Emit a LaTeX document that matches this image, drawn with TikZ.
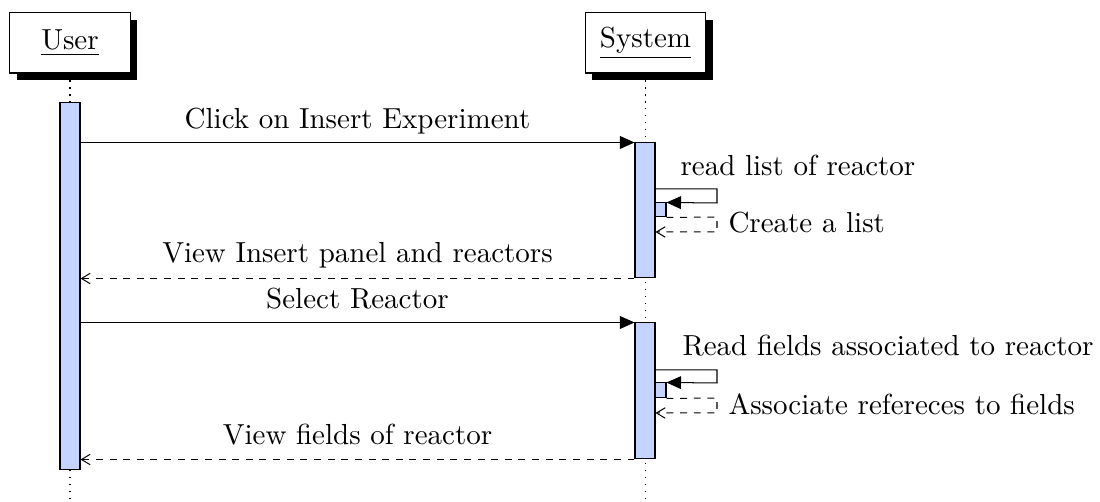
\documentclass[tikz,border=0pt]{standalone}
\usetikzlibrary{arrows.meta,shadows,fit,backgrounds}
\definecolor{barblue}{RGB}{197,211,255}
\begin{document}
\begin{tikzpicture}[x=0.3448pt,y=-0.3448pt,line width=0.35pt,
  inst/.style={draw,fill=white,minimum width=41.4pt,minimum height=20.7pt,inner sep=0pt,
    drop shadow={shadow xshift=2.4pt,shadow yshift=-2.4pt,fill=black,opacity=1}},
  actbar/.style={draw,fill=barblue,inner sep=0pt},
  lifeline/.style={dotted},
  call/.style={-{Triangle[length=5pt,width=4.4pt]}},
  reply/.style={dash pattern=on 2.4pt off 2.3pt,-{Straight Barb[length=3pt,width=3.6pt]}},
  lbl/.style={inner sep=0pt,anchor=base},
  lblw/.style={inner sep=0pt,anchor=base west}]
\useasboundingbox (0,0) rectangle (1100,502);

% actors
\node[inst] (user) at (70,43) {\underline{User}};
\node[inst,minimum width=41.7pt] (system) at (645.5,43) {\underline{System}};
\coordinate (uend) at (70,502);
\coordinate (send) at (645.5,502);
\begin{scope}[on background layer]
  \draw[lifeline] (user.south) -- (uend);
  \draw[lifeline] (system.south) -- (send);
\end{scope}

% activation bars
\node[actbar,fit={(60,103) (80,470)}] (ubar) {};
\node[actbar,fit={(635,143) (655,278)}] (sbar1) {};
\node[actbar,fit={(635,323) (655,459)}] (sbar2) {};
\node[actbar,fit={(655,203) (666,217)}] (sb1) {};
\node[actbar,fit={(655,383) (666,398)}] (sb2) {};

% message 1
\draw[call] (ubar.east |- sbar1.north) -- (sbar1.north west);
\node[lbl] (t1) at (357.5,129) {Click on Insert Experiment};

% self call 1
\coordinate (a1) at (sbar1.east |- 0,189);
\coordinate (a2) at (717,189);
\coordinate (a3) at (717,203);
\draw[call] (a1) -- (a2) -- (a3) -- (sb1.north east);
\node[lblw] (t2) at (680,176) {read list of reactor};
\coordinate (b2) at (717,217);
\coordinate (b3) at (717,232);
\coordinate (b4) at (sbar1.east |- 0,232);
\draw[reply] (sb1.south east) -- (b2) -- (b3) -- (b4);
\node[lblw] (t3) at (728,233) {Create a list};

% reply 1
\draw[reply] (sbar1.south west) -- (ubar.east |- sbar1.south);
\node[lbl] (t4) at (357.5,263) {View Insert panel and reactors};

% message 2
\draw[call] (ubar.east |- sbar2.north) -- (sbar2.north west);
\node[lbl] (t5) at (357.5,309) {Select Reactor};

% self call 2
\coordinate (c1) at (sbar2.east |- 0,370);
\coordinate (c2) at (717,370);
\coordinate (c3) at (717,383);
\draw[call] (c1) -- (c2) -- (c3) -- (sb2.north east);
\node[lblw] (t6) at (682,356) {Read fields associated to reactor};
\coordinate (d2) at (717,398);
\coordinate (d3) at (717,413);
\coordinate (d4) at (sbar2.east |- 0,413);
\draw[reply] (sb2.south east) -- (d2) -- (d3) -- (d4);
\node[lblw] (t7) at (728,415) {Associate refereces to fields};

% reply 2
\draw[reply] (sbar2.south west) -- (ubar.east |- sbar2.south);
\node[lbl] (t8) at (357.5,445) {View fields of reactor};
\end{tikzpicture}
\end{document}
